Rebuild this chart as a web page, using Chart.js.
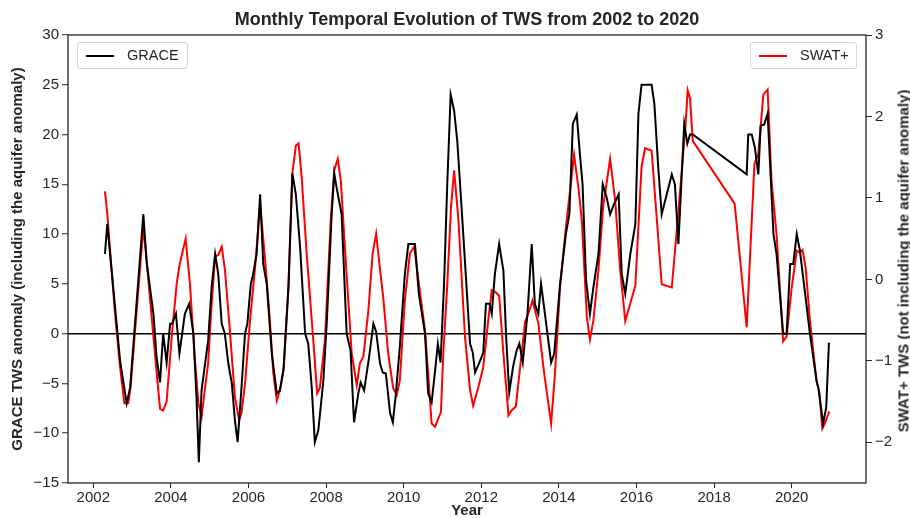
<!DOCTYPE html>
<html>
<head>
<meta charset="utf-8">
<title>Monthly Temporal Evolution of TWS</title>
<script src="https://cdn.jsdelivr.net/npm/chart.js@4.4.1/dist/chart.umd.min.js"></script>
<style>
  html, body { margin: 0; padding: 0; background: #ffffff; }
  #wrap { position: relative; width: 910px; height: 518px; font-family: "Liberation Sans", Arial, sans-serif; }
  #c { position: absolute; left: 0; top: 0; }
  .legend {
    position: absolute; height: 27px; box-sizing: border-box;
    border: 1px solid #d6d6d6; border-radius: 3px; background: rgba(255,255,255,0.85);
    font-size: 14.5px; color: #262626; white-space: nowrap;
  }
  .legend .sample { position: absolute; left: 8px; top: 12px; width: 28px; height: 0; border-top: 2px solid #000; }
  .legend .label { position: absolute; left: 49px; top: 4px; line-height: 17px; }
  #rightTitle {
    position: absolute; left: 903px; top: 261px; transform: translate(-50%, -50%) rotate(-90deg);
    white-space: nowrap; font-weight: bold; font-size: 15px; color: #262626;
  }
</style>
</head>
<body>
<div id="wrap">
  <canvas id="c" width="910" height="518"></canvas>
  <div class="legend" id="legGrace" style="left:77px; top:42px; width:111px;"></div>
  <div class="legend" id="legSwat" style="left:750px; top:42px; width:107px;"></div>
  <div id="rightTitle"></div>
</div>
<script>
// Year ticks shown on the horizontal axis
const yearTicks = [2002, 2004, 2006, 2008, 2010, 2012, 2014, 2016, 2018, 2020];

// GRACE TWS anomaly (left axis), decimal year and value
const graceYears = [
  2002.30, 2002.36, 2002.69, 2002.86, 2002.95, 2003.29, 2003.38, 2003.55, 2003.63, 2003.72,
  2003.80, 2003.89, 2003.98, 2004.03, 2004.13, 2004.22, 2004.36, 2004.47, 2004.58, 2004.66,
  2004.72, 2004.79, 2004.96, 2005.05, 2005.14, 2005.22, 2005.31, 2005.39, 2005.48, 2005.57,
  2005.65, 2005.72, 2005.82, 2005.91, 2005.97, 2006.06, 2006.12, 2006.21, 2006.30, 2006.38,
  2006.47, 2006.60, 2006.73, 2006.81, 2006.90, 2007.03, 2007.13, 2007.22, 2007.33, 2007.46,
  2007.54, 2007.63, 2007.71, 2007.80, 2007.93, 2008.02, 2008.14, 2008.21, 2008.27, 2008.40,
  2008.53, 2008.63, 2008.72, 2008.83, 2008.89, 2008.98, 2009.11, 2009.22, 2009.29, 2009.39,
  2009.46, 2009.54, 2009.65, 2009.72, 2009.80, 2009.90, 2010.03, 2010.12, 2010.29, 2010.39,
  2010.55, 2010.63, 2010.72, 2010.81, 2010.88, 2010.95, 2011.04, 2011.12, 2011.21, 2011.30,
  2011.38, 2011.54, 2011.71, 2011.78, 2011.84, 2011.95, 2012.05, 2012.12, 2012.21, 2012.27,
  2012.35, 2012.46, 2012.57, 2012.64, 2012.72, 2012.82, 2012.91, 2012.98, 2013.07, 2013.19,
  2013.30, 2013.38, 2013.47, 2013.54, 2013.64, 2013.80, 2013.88, 2014.03, 2014.18, 2014.27,
  2014.36, 2014.46, 2014.54, 2014.61, 2014.70, 2014.80, 2014.89, 2015.02, 2015.13, 2015.23,
  2015.32, 2015.42, 2015.54, 2015.62, 2015.71, 2015.84, 2015.97, 2016.05, 2016.13, 2016.39,
  2016.46, 2016.56, 2016.65, 2016.91, 2016.99, 2017.08, 2017.23, 2017.31, 2017.38, 2017.45,
  2018.84, 2018.88, 2018.97, 2019.05, 2019.14, 2019.20, 2019.29, 2019.38, 2019.53, 2019.61,
  2019.78, 2019.87, 2019.96, 2020.04, 2020.13, 2020.21, 2020.47, 2020.64, 2020.69, 2020.81,
  2020.89, 2020.96
];
const graceValues = [
  8.0, 11.0, -2.7, -7.0, -5.4, 12.0, 7.0, 2.0, -2.3, -4.9,
  0.0, -2.9, 1.0, 1.0, 2.0, -2.0, 2.0, 3.0, 0.0, -6.4,
  -12.9, -5.7, -0.7, 4.7, 8.0, 6.0, 1.0, 0.0, -3.0, -5.0,
  -8.7, -10.9, -5.4, 0.0, 1.0, 5.0, 6.0, 8.0, 14.0, 7.0,
  5.0, -2.0, -6.0, -5.7, -3.7, 4.7, 16.1, 14.0, 8.7, 0.0,
  -1.0, -5.4, -10.9, -9.7, -4.7, 1.3, 11.7, 16.1, 14.7, 12.0,
  0.0, -1.7, -8.9, -6.0, -4.9, -5.7, -2.3, 1.0, 0.2, -3.0,
  -3.9, -4.0, -8.0, -8.9, -6.0, -1.3, 6.0, 9.0, 9.0, 4.0,
  0.0, -6.0, -6.9, -3.7, -1.0, -2.9, 5.0, 14.7, 24.0, 22.4,
  19.4, 9.7, -1.0, -1.9, -3.9, -2.9, -1.9, 3.0, 3.0, 2.0,
  6.0, 9.0, 6.3, -0.3, -5.9, -3.3, -1.7, -1.0, -2.9, 2.0,
  9.0, 3.0, 2.0, 5.0, 2.0, -2.9, -2.0, 5.0, 10.0, 12.0,
  21.1, 22.0, 18.1, 15.0, 5.4, 2.0, 4.7, 8.0, 15.0, 13.7,
  12.0, 13.0, 14.0, 6.0, 4.0, 8.0, 11.0, 22.1, 25.0, 25.0,
  23.1, 16.7, 12.0, 16.0, 15.0, 9.0, 21.1, 19.1, 20.0, 20.0,
  16.0, 20.0, 20.0, 18.7, 16.0, 20.9, 21.0, 22.1, 10.0, 8.0,
  0.0, 0.0, 7.0, 7.0, 10.0, 8.4, 0.0, -4.7, -5.5, -9.0,
  -7.4, -0.9
];

// SWAT+ TWS (right axis), decimal year and value
const swatYears = [
  2002.30, 2002.36, 2002.56, 2002.69, 2002.80, 2002.90, 2002.96, 2003.07, 2003.29, 2003.39,
  2003.55, 2003.72, 2003.80, 2003.89, 2004.02, 2004.15, 2004.22, 2004.38, 2004.49, 2004.62,
  2004.71, 2004.79, 2004.88, 2004.96, 2005.05, 2005.14, 2005.22, 2005.31, 2005.39, 2005.52,
  2005.65, 2005.76, 2005.82, 2005.91, 2006.04, 2006.17, 2006.30, 2006.43, 2006.55, 2006.64,
  2006.73, 2006.81, 2006.91, 2007.03, 2007.13, 2007.22, 2007.29, 2007.37, 2007.50, 2007.67,
  2007.77, 2007.84, 2007.97, 2008.12, 2008.21, 2008.30, 2008.38, 2008.53, 2008.66, 2008.79,
  2008.87, 2008.96, 2009.09, 2009.20, 2009.29, 2009.39, 2009.47, 2009.60, 2009.73, 2009.82,
  2009.90, 2010.03, 2010.16, 2010.27, 2010.38, 2010.55, 2010.63, 2010.72, 2010.81, 2010.89,
  2010.96, 2011.02, 2011.12, 2011.22, 2011.30, 2011.41, 2011.58, 2011.71, 2011.79, 2011.92,
  2012.05, 2012.18, 2012.27, 2012.35, 2012.46, 2012.57, 2012.70, 2012.78, 2012.89, 2013.04,
  2013.13, 2013.24, 2013.32, 2013.47, 2013.62, 2013.80, 2013.90, 2014.03, 2014.20, 2014.30,
  2014.39, 2014.50, 2014.59, 2014.72, 2014.80, 2014.89, 2015.02, 2015.14, 2015.32, 2015.45,
  2015.58, 2015.71, 2015.97, 2016.13, 2016.22, 2016.39, 2016.65, 2016.91, 2017.06, 2017.26,
  2017.32, 2017.38, 2017.45, 2018.53, 2018.84, 2019.04, 2019.14, 2019.27, 2019.38, 2019.48,
  2019.61, 2019.78, 2019.87, 2020.00, 2020.13, 2020.21, 2020.28, 2020.36, 2020.47, 2020.64,
  2020.71, 2020.79, 2020.85, 2020.97
];
const swatValues = [
  1.08, 0.81, -0.42, -1.08, -1.52, -1.52, -1.33, -0.67, 0.64, 0.15,
  -0.71, -1.59, -1.61, -1.50, -0.71, -0.05, 0.17, 0.50, -0.05, -1.00,
  -1.52, -1.69, -1.33, -1.03, -0.30, 0.28, 0.30, 0.40, 0.13, -0.63,
  -1.45, -1.73, -1.64, -1.28, -0.50, 0.15, 0.93, 0.23, -0.50, -1.15,
  -1.49, -1.36, -1.08, -0.09, 1.30, 1.64, 1.67, 1.26, 0.31, -0.75,
  -1.40, -1.33, -0.75, 0.73, 1.34, 1.48, 1.21, 0.05, -0.91, -1.30,
  -1.03, -0.95, -0.38, 0.32, 0.56, 0.12, -0.21, -0.91, -1.34, -1.42,
  -1.24, -0.26, 0.32, 0.40, -0.01, -0.63, -1.15, -1.77, -1.81, -1.71,
  -1.63, -0.91, -0.09, 0.89, 1.34, 0.73, -0.71, -1.36, -1.55, -1.33,
  -1.08, -0.50, -0.13, -0.15, -0.20, -0.91, -1.67, -1.61, -1.56, -0.91,
  -0.52, -0.38, -0.26, -0.54, -1.15, -1.77, -1.15, -0.09, 0.73, 1.14,
  1.53, 1.14, 0.73, -0.46, -0.74, -0.50, 0.12, 0.89, 1.48, 0.97,
  0.12, -0.51, -0.08, 1.38, 1.61, 1.58, -0.06, -0.10, 0.72, 1.87,
  2.32, 2.22, 1.70, 0.93, -0.59, 1.42, 1.54, 2.27, 2.33, 1.21,
  0.55, -0.76, -0.70, -0.10, 0.35, 0.33, 0.36, 0.14, -0.51, -1.25,
  -1.38, -1.83, -1.77, -1.62
];

const seriesNames = ['GRACE', 'SWAT+'];
const leftTitle = 'GRACE TWS anomaly (including the aquifer anomaly)';
const rightTitle = 'SWAT+ TWS (not including the aquifer anomaly)';
const chartTitle = 'Monthly Temporal Evolution of TWS from 2002 to 2020';

const INK = '#262626';
const FONT = '"Liberation Sans", Arial, sans-serif';

const toPoints = (xs, ys) => xs.map((x, i) => ({ x: x, y: ys[i] }));
// Tick text with a typographic minus sign
const signed = v => (v < 0 ? '\u2212' + Math.abs(v) : String(v));

// Dark frame around the plotting area
const framePlugin = {
  id: 'frame',
  afterDatasetsDraw(chart) {
    const a = chart.chartArea, ctx = chart.ctx;
    ctx.save();
    ctx.strokeStyle = INK;
    ctx.lineWidth = 1.3;
    ctx.strokeRect(a.left, a.top, a.right - a.left, a.bottom - a.top);
    ctx.restore();
  }
};

Chart.defaults.font.family = FONT;
Chart.defaults.color = INK;

const chart = new Chart(document.getElementById('c'), {
  type: 'line',
  data: {
    datasets: [
      {
        label: seriesNames[0],
        data: toPoints(graceYears, graceValues),
        borderColor: '#000000',
        backgroundColor: '#000000',
        borderWidth: 2,
        pointRadius: 0,
        tension: 0,
        yAxisID: 'y'
      },
      {
        label: seriesNames[1],
        data: toPoints(swatYears, swatValues),
        borderColor: '#ff0000',
        backgroundColor: '#ff0000',
        borderWidth: 2,
        pointRadius: 0,
        tension: 0,
        yAxisID: 'y1'
      }
    ]
  },
  options: {
    responsive: false,
    animation: false,
    layout: { padding: 0 },
    plugins: {
      legend: { display: false },
      tooltip: { enabled: false },
      title: {
        display: true,
        text: chartTitle,
        fullSize: false,
        color: INK,
        font: { size: 18, weight: 'bold', lineHeight: 1.2 },
        padding: { top: 9, bottom: 4.4 }
      }
    },
    scales: {
      x: {
        type: 'linear',
        min: 2001.348,
        max: 2021.915,
        afterBuildTicks: s => { s.ticks = yearTicks.map(v => ({ value: v })); },
        afterFit: s => { s.height = 35; },
        ticks: {
          callback: v => String(v),
          font: { size: 15 },
          color: INK,
          padding: 1,
          maxRotation: 0,
          autoSkip: false
        },
        grid: { drawOnChartArea: false, tickLength: 5, tickColor: INK },
        border: { display: false },
        title: {
          display: true,
          text: 'Year',
          color: INK,
          font: { size: 15, weight: 'bold', lineHeight: 1 },
          padding: { top: 0, bottom: 0 }
        }
      },
      y: {
        position: 'left',
        min: -15,
        max: 30,
        afterFit: s => { s.width = 68; },
        ticks: { stepSize: 5, font: { size: 15 }, color: INK, padding: 3, callback: signed },
        grid: {
          color: c => (c.tick && c.tick.value === 0 ? '#000000' : 'rgba(0,0,0,0)'),
          lineWidth: 1.5,
          tickLength: 6,
          tickColor: INK,
          tickWidth: 1
        },
        border: { display: false },
        title: {
          display: true,
          text: leftTitle,
          color: INK,
          font: { size: 15, weight: 'bold', lineHeight: 1.2 },
          padding: { top: 9, bottom: 0 }
        }
      },
      y1: {
        position: 'right',
        min: -2.5,
        max: 3,
        afterBuildTicks: s => { s.ticks = s.ticks.filter(t => Number.isInteger(t.value)); },
        afterFit: s => { s.width = 44; },
        ticks: { stepSize: 1, font: { size: 15 }, color: INK, padding: 3, callback: signed },
        grid: { drawOnChartArea: false, tickLength: 6, tickColor: INK, tickWidth: 1 },
        border: { display: false }
      }
    }
  },
  plugins: [framePlugin]
});

// Legend boxes built from the datasets
function fillLegend(id, ds) {
  const el = document.getElementById(id);
  const sample = document.createElement('div');
  sample.className = 'sample';
  sample.style.borderTopColor = ds.borderColor;
  const label = document.createElement('div');
  label.className = 'label';
  label.textContent = ds.label;
  el.appendChild(sample);
  el.appendChild(label);
}
fillLegend('legGrace', chart.data.datasets[0]);
fillLegend('legSwat', chart.data.datasets[1]);
document.getElementById('rightTitle').textContent = rightTitle;
</script>
</body>
</html>
